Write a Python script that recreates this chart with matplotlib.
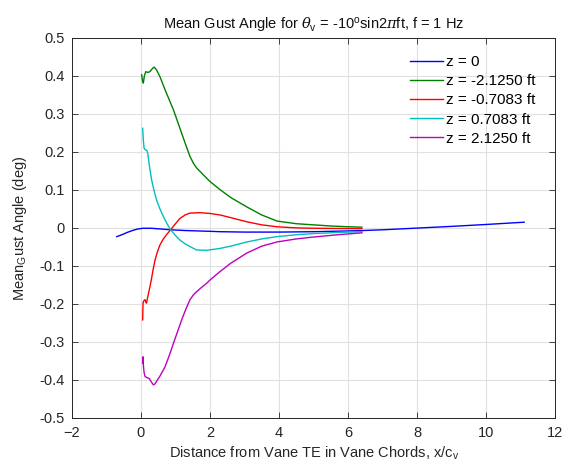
import matplotlib
matplotlib.use("Agg")
import matplotlib.pyplot as plt

plt.rcParams['font.family'] = ['Liberation Sans', 'DejaVu Sans']
plt.rcParams['mathtext.fontset'] = 'custom'
plt.rcParams['mathtext.rm'] = 'Liberation Sans'
plt.rcParams['mathtext.it'] = 'DejaVu Serif:italic'

# ---- data ----
x_blue = [-0.7, -0.55, -0.4, -0.25, -0.1, 0.05, 0.3, 0.6, 0.86, 1.3, 2.0, 2.29, 3.0, 4.0, 5.0,
          6.0, 6.4, 7.0, 8.0, 9.0, 10.0, 11.1]
y_blue = [-0.023, -0.018, -0.012, -0.007, -0.003, -0.001, -0.001, -0.003, -0.005, -0.007,
          -0.009, -0.010, -0.011, -0.011, -0.010, -0.008, -0.007, -0.005, -0.0005, 0.004,
          0.009, 0.015]

x_green = [0.02, 0.05, 0.07, 0.10, 0.14, 0.20, 0.26, 0.32, 0.38, 0.45, 0.55, 0.70, 0.82, 0.94,
           1.06, 1.18, 1.30, 1.42, 1.52, 1.61, 1.75, 1.90, 2.0, 2.3, 2.6, 3.07, 3.5, 3.94, 4.5,
           5.0, 5.5, 6.0, 6.4]
y_green = [0.403, 0.385, 0.381, 0.400, 0.411, 0.409, 0.411, 0.418, 0.423, 0.416, 0.398, 0.363,
           0.337, 0.311, 0.280, 0.249, 0.218, 0.188, 0.170, 0.158, 0.145, 0.131, 0.122, 0.100,
           0.080, 0.055, 0.034, 0.018, 0.011, 0.008, 0.005, 0.003, 0.002]

x_red = [0.05, 0.06, 0.07, 0.10, 0.12, 0.14, 0.16, 0.21, 0.26, 0.30, 0.35, 0.41, 0.48, 0.55,
         0.65, 0.74, 0.86, 1.0, 1.13, 1.28, 1.42, 1.71, 2.0, 2.29, 2.6, 3.07, 3.5, 3.94, 4.5,
         5.0, 6.4]
y_red = [-0.242, -0.200, -0.194, -0.190, -0.189, -0.195, -0.198, -0.176, -0.155, -0.137,
         -0.111, -0.084, -0.062, -0.045, -0.029, -0.018, -0.005, 0.011, 0.025, 0.034, 0.039,
         0.040, 0.038, 0.034, 0.027, 0.016, 0.008, 0.003, 0.000, -0.001, -0.002]

x_cyan = [0.05, 0.07, 0.09, 0.11, 0.14, 0.17, 0.20, 0.25, 0.31, 0.38, 0.45, 0.55, 0.65, 0.75,
          0.86, 1.0, 1.13, 1.28, 1.42, 1.61, 1.9, 2.29, 2.6, 3.07, 3.5, 3.94, 4.5, 5.0, 5.7, 6.4]
y_cyan = [0.262, 0.230, 0.210, 0.207, 0.205, 0.204, 0.195, 0.160, 0.126, 0.098, 0.074, 0.050,
          0.030, 0.012, -0.005, -0.020, -0.032, -0.042, -0.049, -0.058, -0.059, -0.054, -0.048,
          -0.037, -0.029, -0.023, -0.018, -0.015, -0.012, -0.010]

x_mag = [0.05, 0.06, 0.07, 0.09, 0.12, 0.18, 0.24, 0.30, 0.36, 0.40, 0.45, 0.55, 0.70, 0.82,
         0.94, 1.06, 1.18, 1.30, 1.42, 1.52, 1.61, 1.75, 1.9, 2.0, 2.29, 2.6, 3.07, 3.5, 3.94,
         4.5, 5.0, 5.7, 6.4]
y_mag = [-0.356, -0.339, -0.360, -0.380, -0.391, -0.394, -0.396, -0.405, -0.413, -0.411, -0.404,
         -0.390, -0.365, -0.336, -0.304, -0.273, -0.242, -0.214, -0.189, -0.176, -0.168, -0.157,
         -0.146, -0.137, -0.115, -0.093, -0.066, -0.048, -0.037, -0.029, -0.024, -0.018, -0.013]

labels = ['z = 0', 'z = -2.1250 ft', 'z = -0.7083 ft', 'z = 0.7083 ft', 'z = 2.1250 ft']
colors = ['#0000ff', '#008000', '#ff0000', '#00bfbf', '#bf00bf']

xticks = [-2, 0, 2, 4, 6, 8, 10, 12]
yticks = [-0.5, -0.4, -0.3, -0.2, -0.1, 0.0, 0.1, 0.2, 0.3, 0.4, 0.5]
yticklabels = ['-0.5', '-0.4', '-0.3', '-0.2', '-0.1', '0', '0.1', '0.2', '0.3', '0.4', '0.5']

fig = plt.figure(figsize=(5.66, 4.67), dpi=100)
ax = fig.add_axes([0.127, 0.105, 0.854, 0.814])

series = [(x_blue, y_blue), (x_green, y_green), (x_red, y_red), (x_cyan, y_cyan), (x_mag, y_mag)]
for (xs, ys), c, lab in zip(series, colors, labels):
    ax.plot(xs, ys, color=c, lw=1.0, label=lab)

ax.set_xlim(-2, 12)
ax.set_ylim(-0.5, 0.5)
ax.set_xticks(xticks)
ax.set_yticks(yticks)
ax.set_yticklabels(yticklabels)
ax.grid(True, color='#e0e0e0', lw=0.8)
ax.set_axisbelow(True)
ax.tick_params(direction='in', top=True, right=True, labelsize=10.5, length=4, width=0.6,
               color='#262626', labelcolor='#262626')
ax.tick_params(axis='x', pad=6)
ax.tick_params(axis='y', pad=5)
for s in ax.spines.values():
    s.set_color('#262626')
    s.set_linewidth(0.7)

ax.set_xlabel(r'Distance from Vane TE in Vane Chords, x/c$_{\rm v}$', fontsize=10.5,
              color='#262626', labelpad=3)
ax.set_ylabel(r'Mean$_{\rm G}$ust Angle (deg)', fontsize=10.5, color='#262626', labelpad=8)
ax.set_title(r'Mean Gust Angle for $\theta_{\rm v}$ = -10$^{\rm o}$sin2$\pi$ft, f = 1 Hz',
             fontsize=10.5, color='#111111')

leg = ax.legend(loc='upper left', bbox_to_anchor=(0.70, 0.955), frameon=False, fontsize=11,
                handlelength=2.15, labelspacing=0.34, handletextpad=0.2, borderpad=0,
                borderaxespad=0)

fig.savefig('out.png', dpi=100)
